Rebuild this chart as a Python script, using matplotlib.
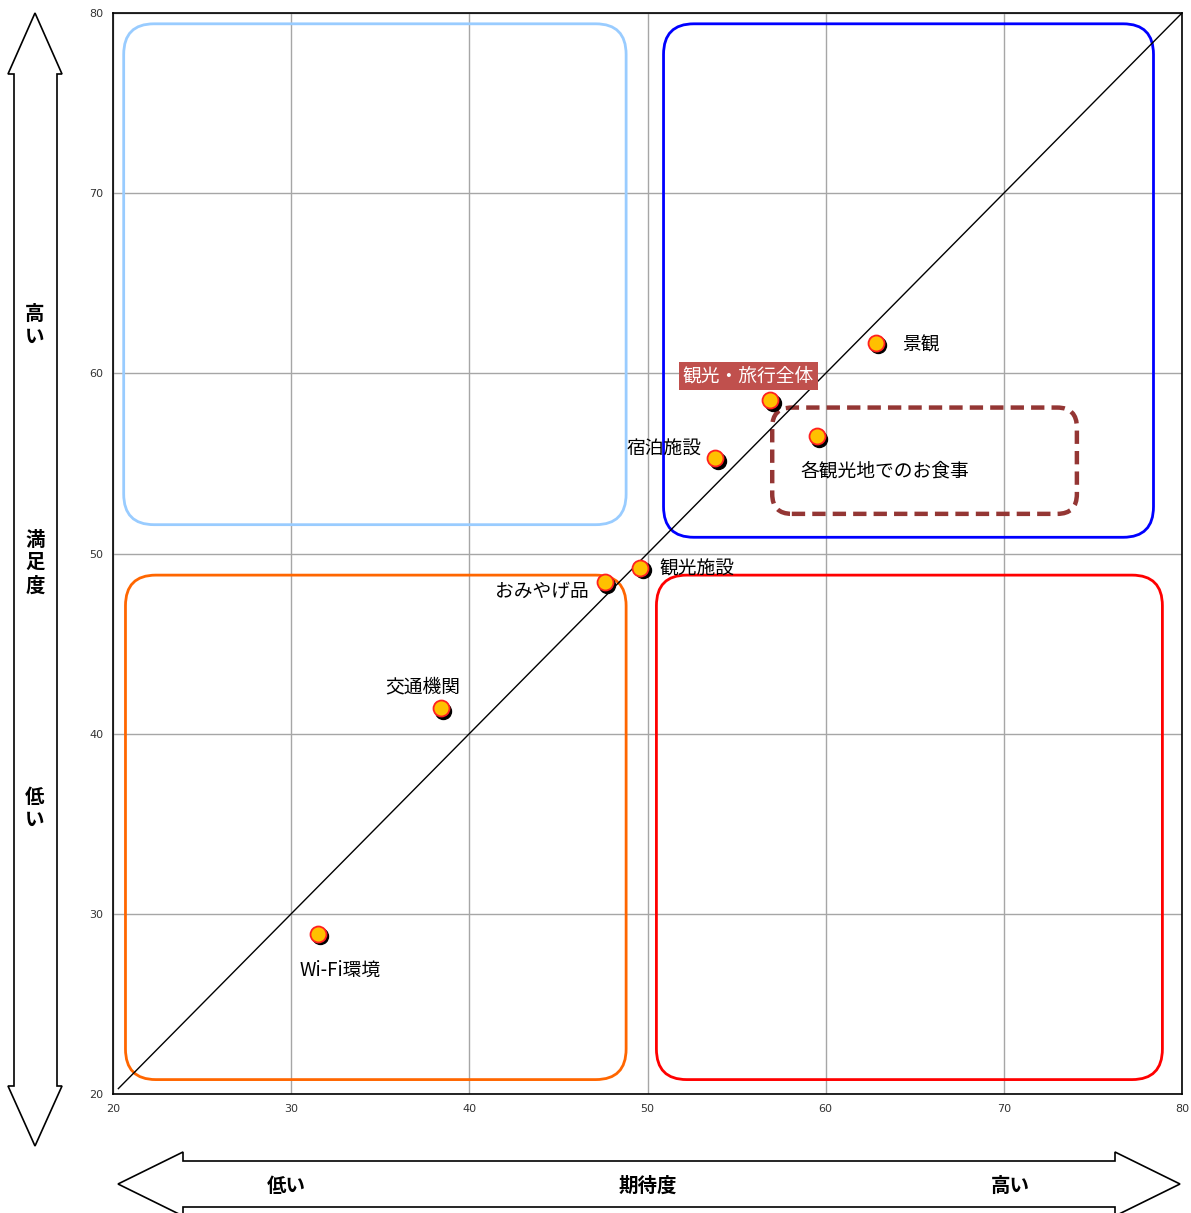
import matplotlib.pyplot as plt
from matplotlib.patches import FancyBboxPatch, Polygon
from matplotlib.transforms import offset_copy

plt.rcParams["font.family"] = ["Noto Sans CJK JP", "DejaVu Sans"]

# expectation (x) and satisfaction (y)
items = ["景観", "観光・旅行全体", "各観光地でのお食事", "宿泊施設",
         "観光施設", "おみやげ品", "交通機関", "Wi-Fi環境"]
expectation = [62.8, 56.9, 59.5, 53.8, 49.6, 47.6, 38.4, 31.5]
satisfaction = [61.7, 58.5, 56.5, 55.3, 49.2, 48.4, 41.4, 28.9]

# label offsets in points and alignment
label_offsets = [(19, -2, "left"), (-16, 17.5, "center"), (49, -25, "center"),
                 (-10, 7, "right"), (14, -0.5, "left"), (-11.5, -6.3, "right"),
                 (-13, 15.5, "center"), (-13, -26.5, "left")]

ticks = [20, 30, 40, 50, 60, 70, 80]

W, H = 1191, 1213
fig = plt.figure(figsize=(W / 100, H / 100), dpi=100)
ax = fig.add_axes([113 / W, 1 - 1094 / H, (1182 - 113) / W, (1094 - 13) / H])
ax.set_xlim(20, 80)
ax.set_ylim(20, 80)
ax.set_xticks(ticks)
ax.set_yticks(ticks)
ax.grid(True, color="#A6A6A6", linewidth=1)
ax.set_axisbelow(True)
ax.tick_params(length=0, labelsize=8, colors="#333333", pad=7)
for lab in ax.get_xticklabels() + ax.get_yticklabels():
    lab.set_family("DejaVu Sans")
for sp in ax.spines.values():
    sp.set_linewidth(1.2)

# quadrant boxes
boxes = [
    ((20.6, 51.6), 28.2, 27.8, "#99CCFF"),
    ((50.9, 50.9), 27.5, 28.5, "#0000FF"),
    ((20.7, 20.8), 28.1, 28.0, "#FF6600"),
    ((50.5, 20.8), 28.4, 28.0, "#FF0000"),
]
for (x0, y0), w, h, c in boxes:
    ax.add_patch(FancyBboxPatch((x0, y0), w, h,
                                boxstyle="round,pad=0,rounding_size=1.7",
                                fill=False, edgecolor=c, linewidth=2))
ax.add_patch(FancyBboxPatch((57.0, 52.2), 17.1, 5.9,
                            boxstyle="round,pad=0,rounding_size=1.1",
                            fill=False, edgecolor="#943634", linewidth=3.2,
                            linestyle=(0, (3, 1.6))))

# diagonal
ax.plot([20.3, 80], [20.3, 80], color="black", linewidth=1)

# markers with shadow
shadow = offset_copy(ax.transData, fig=fig, x=2.5, y=-2.5, units="dots")
ax.plot(expectation, satisfaction, "o", color="black", markersize=11.5,
        transform=shadow, zorder=4)
ax.plot(expectation, satisfaction, "o", markerfacecolor="#FFC000",
        markeredgecolor="#FF2020", markeredgewidth=1.3, markersize=11.5, zorder=5)

for name, x, y, (dx, dy, ha) in zip(items, expectation, satisfaction, label_offsets):
    kw = {}
    color = "black"
    if name == "観光・旅行全体":
        color = "white"
        kw["bbox"] = dict(boxstyle="square,pad=0.2", facecolor="#C0504D", edgecolor="none")
    ax.annotate(name, (x, y), xytext=(dx, dy), textcoords="offset points",
                ha=ha, va="center", fontsize=13.5, color=color, zorder=6, **kw)


def px_poly(points):
    pts = [(px / W, 1 - py / H) for px, py in points]
    fig.add_artist(Polygon(pts, closed=True, transform=fig.transFigure,
                           facecolor="white", edgecolor="black", linewidth=1.2))


# vertical double arrow
px_poly([(35, 13), (62, 74), (57, 74), (57, 1086), (62, 1086), (35, 1146),
         (8, 1086), (14, 1086), (14, 74), (8, 74)])
# horizontal double arrow
px_poly([(118, 1184), (183, 1152), (183, 1161), (1115, 1161), (1115, 1152),
         (1180, 1184), (1115, 1216), (1115, 1207), (183, 1207), (183, 1216)])

for txt, px, py in [("低い", 286, 1186), ("期待度", 648, 1186), ("高い", 1010, 1186)]:
    fig.text(px / W, 1 - py / H, txt, ha="center", va="center",
             fontsize=14, fontweight="bold")
for txt, px, py in [("高\nい", 35, 326), ("満\n足\n度", 35, 563), ("低\nい", 35, 809)]:
    fig.text(px / W, 1 - py / H, txt, ha="center", va="center",
             fontsize=14, fontweight="bold", linespacing=1.25)

fig.savefig("out.png", dpi=100)
